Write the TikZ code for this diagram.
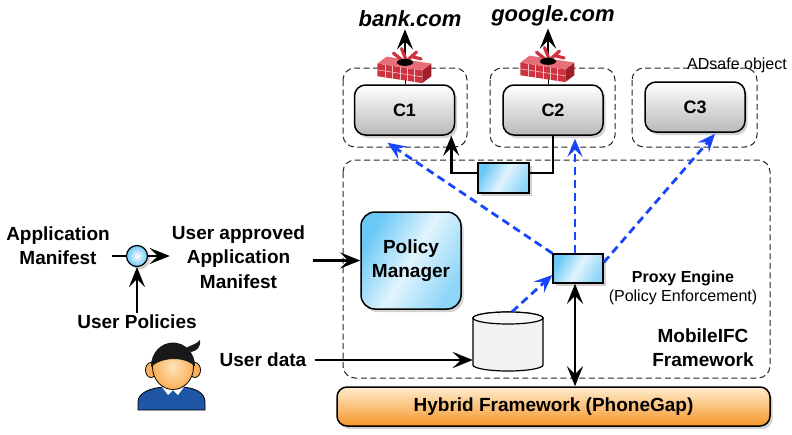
\documentclass[tikz,border=0pt]{standalone}
\usepackage{fontspec}
\setmainfont{Liberation Sans}
\usetikzlibrary{arrows.meta,shadows,calc}

\definecolor{linkblue}{RGB}{25,70,250}
\definecolor{skyblue}{RGB}{105,200,245}
\definecolor{boxgray}{RGB}{185,185,185}
\definecolor{orangebot}{RGB}{245,150,40}
\definecolor{orangetop}{RGB}{255,236,205}
\definecolor{wallred}{RGB}{205,50,62}
\definecolor{walltop}{RGB}{230,110,120}
\definecolor{wallside}{RGB}{160,30,40}
\definecolor{shirtblue}{RGB}{30,85,165}
\definecolor{skin}{RGB}{250,175,90}
\definecolor{skinlight}{RGB}{255,228,185}

% a small red brick firewall with flames, centred on #1
\newcommand\brickwall[1]{%
  \begin{scope}[shift={#1}, scale=1.15]
    \fill[wallred] (-24,-3) -- (15,3) -- (15,14) -- (-24,8) -- cycle;
    \fill[wallside] (15,3) -- (23,-3) -- (23,8) -- (15,14) -- cycle;
    \fill[walltop] (-24,-3) -- (-16,-9) -- (23,-3) -- (15,3) -- cycle;
    \foreach \t in {1,...,5}
      \draw[white!70!wallred, line width=0.6pt] ({-24+6.5*\t},{-3+\t}) -- ({-24+6.5*\t},{8+\t});
    \draw[white!70!wallred, line width=0.6pt] (-24,2.5) -- (15,8.5);
    \draw[wallred, line width=3.2pt, line cap=round] (-10,-12) -- (0,-4) (10,-13) -- (0,-4) (-3,-16) -- (1,-6) (6,-9) -- (14,-7);
    \fill[black] (0,-4) ellipse [x radius=7pt, y radius=3pt];
  \end{scope}}

\begin{document}
\begin{tikzpicture}[x=1pt,y=-1pt,
  lbl/.style={font=\fontsize{19}{24.5}\selectfont\bfseries, align=center, inner sep=2pt},
  small/.style={font=\fontsize{16}{19}\selectfont, align=center, inner sep=1pt},
  zone/.style={draw=black!85, line width=1pt, dash pattern=on 6pt off 3.5pt, rounded corners=12pt},
  shade3d/.style={drop shadow={shadow xshift=2.5pt, shadow yshift=-3pt, opacity=0.35}},
  cbox/.style={draw, line width=1.5pt, rounded corners=11pt, top color=white, bottom color=boxgray,
    minimum width=100pt, minimum height=50pt, shade3d, font=\fontsize{18}{20}\selectfont\bfseries},
  glass/.style={draw, line width=1.5pt, left color=skyblue, right color=skyblue!75, middle color=white!80!skyblue,
    shading angle=60, shade3d},
  wire/.style={line width=2.8pt},
  blk/.style={wire, -{Stealth[length=20pt,width=16pt,inset=8pt]}},
  blk2/.style={wire, {Stealth[length=20pt,width=16pt,inset=8pt]}-{Stealth[length=20pt,width=16pt,inset=8pt]}},
  bdash/.style={draw=linkblue, line width=2.8pt, dash pattern=on 8pt off 5pt,
    -{Stealth[length=18pt,width=15pt,inset=7pt]}}]

\fill[white] (0,0) rectangle (792,434);
\useasboundingbox (0,0) rectangle (792,434);

% sandbox containers
\draw[zone] (343,68) rectangle (467,147);
\draw[zone] (490,68) rectangle (615,147);
\draw[zone] (632,68) rectangle (757,147);
\draw[zone] (343,160) rectangle (770,378);

% external sites
\node[font=\fontsize{22}{24}\selectfont\bfseries\itshape, inner sep=2pt] (bank) at (410,19) {bank.com};
\node[font=\fontsize{22}{24}\selectfont\bfseries\itshape, inner sep=2pt] (google) at (553,16) {google.com};
\node[small, anchor=west] (adsafe) at (686,65) {ADsafe object};

% components
\node[cbox] (c1) at (404.5,110) {C1};
\node[cbox] (c2) at (553,110) {C2};
\node[cbox] (c3) at (695,107) {C3};

\coordinate (fw1) at (405,62);
\coordinate (fw2) at (548,61);
\draw[line width=0.8pt] (c1.north -| fw1) -- (fw1);
\draw[line width=0.8pt] (c2.north -| fw2) -- (fw2);
\draw[blk] (fw1) -- (fw1 |- bank.south);
\draw[blk] (fw2) -- (fw2 |- google.south);
\brickwall{(405,67)}
\brickwall{(548,66)}

% framework internals
\node[glass, minimum width=51pt, minimum height=30pt] (link) at (503.5,178) {};
\node[glass, minimum width=50pt, minimum height=29pt] (proxy) at (578,268.5) {};
\node[glass, lbl, rounded corners=14pt, minimum width=100pt, minimum height=97pt] (pm) at (411,260.5) {Policy\\Manager};

% data store: a cylinder drawn around a named node
\node[minimum width=70pt, minimum height=59pt, inner sep=0pt] (db) at (508,341.5) {};
\draw[line width=1.2pt, fill=black!5] (473,318) -- (473,365) arc[start angle=180, end angle=360, x radius=35pt, y radius=6pt]
  -- (543,318) arc[start angle=0, end angle=180, x radius=35pt, y radius=6pt] -- cycle;
\draw[line width=1.2pt, fill=black!3] (508,318) ellipse [x radius=35pt, y radius=6pt];

\node[draw, line width=1.5pt, rounded corners=10pt, top color=orangetop, bottom color=orangebot,
  minimum width=433pt, minimum height=39pt, lbl, shade3d] (hyb) at (553.5,406.5) {Hybrid Framework (PhoneGap)};

\node[small] (proxylbl) at (683,287.5) {\textbf{Proxy Engine}\\(Policy Enforcement)};
\node[lbl] (mobile) at (703,347.5) {MobileIFC\\Framework};

% left side inputs
\node[lbl] (appman) at (58,245.5) {Application\\Manifest};
\node[circle, draw, line width=1.2pt, inner color=white, outer color=skyblue, minimum size=21pt, shade3d] (mix) at (137,256) {};
\node[lbl] (userapp) at (238.5,257) {User approved\\Application\\Manifest};
\node[lbl] (userpol) at (137,322) {User Policies};
\node[lbl] (udata) at (263,360) {User data};

% user figure
\draw[line width=0.8pt, fill=shirtblue] (138,410) -- (138,402) .. controls (138,392) and (152,388) .. (163,387)
  -- (183,387) .. controls (194,388) and (205,392) .. (205,402) -- (205,410) -- cycle;
\fill[white] (162,387) -- (168,395) -- (173,390) -- (178,395) -- (184,387) -- cycle;
\draw[line width=0.8pt, fill=skin] (151,370) ellipse [x radius=5.5pt, y radius=7.5pt];
\draw[line width=0.8pt, fill=skin] (195,370) ellipse [x radius=5.5pt, y radius=7.5pt];
\shade[inner color=skinlight, outer color=skin, draw=black, line width=0.8pt] (173,367) ellipse [x radius=20.5pt, y radius=22.5pt];
\begin{scope}
  \clip (173,366) ellipse [x radius=22pt, y radius=23.5pt];
  \fill[black!90] (148,371) .. controls (156,356) and (190,354) .. (198,371) -- (198,340) -- (148,340) -- cycle;
\end{scope}
\fill[black!90] (186,348) .. controls (193,344) and (197,344) .. (200,340) .. controls (201,347) and (197,351) .. (191,352) -- cycle;

% connectors
\draw[wire] (mix.west -| appman.east) -- (mix.west);
\draw[blk] (mix.east) -- (mix.east -| userapp.west);
\draw[blk] (userpol.north) -- (mix.south);
\draw[blk, shorten <=6pt] (userapp.east |- pm.west) -- (pm.west);
\draw[blk, shorten <=6pt] (udata.east) -- (udata.east -| db.west);

\draw[wire] (c2.south) |- ([yshift=5pt]link.east);
\draw[blk] ([yshift=5pt]link.west) -| ([xshift=-4pt]c1.south east);

\draw[bdash] (proxy.north west) -- ([shift={(-17,7)}]c1.south);
\draw[bdash] ([xshift=-3pt]proxy.north) -- ([xshift=-3pt,yshift=-3pt]proxy.north |- c2.south);
\draw[bdash] ([yshift=6pt]proxy.east) -- ([shift={(20,1)}]c3.south);
\draw[bdash] ([xshift=4pt]db.north) -- ([yshift=-6.5pt]proxy.west);

\draw[blk2] ([xshift=-3pt]proxy.south) -- ([xshift=-3pt]proxy.south |- hyb.north);
\end{tikzpicture}
\end{document}
